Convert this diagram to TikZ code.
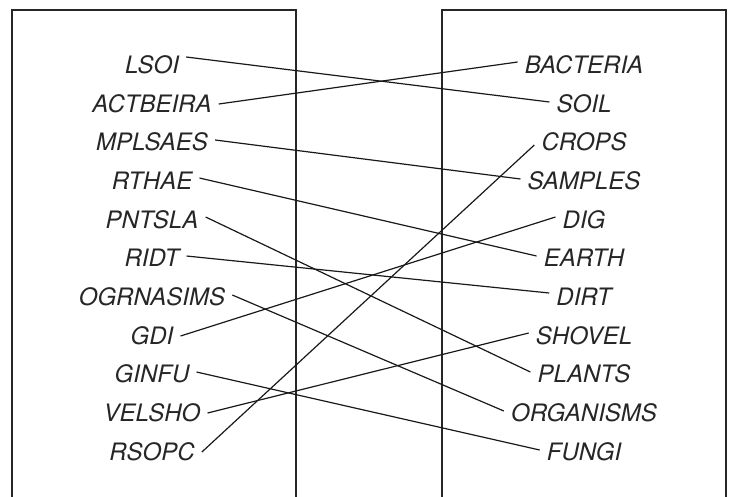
\documentclass[tikz,border=0pt]{standalone}
\usepackage{fontspec}
\setmainfont{TeX Gyre Heros}
\usepackage{tikz}

\begin{document}
\begin{tikzpicture}[x=1pt, y=1pt,
  panel/.style={draw=black!85, line width=2.1pt},
  word/.style={font=\fontsize{24}{24}\selectfont\itshape, inner xsep=7pt, inner ysep=2pt, text=black!85},
  link/.style={draw=black!90, line width=1.2pt}
]
  \useasboundingbox (0,0) rectangle (735,-496);
  % the two panels (open at the bottom)
  \draw[panel] (12,-497) |- (296,-10) -- (296,-497);
  \draw[panel] (442,-497) |- (726,-10) -- (726,-497);

  % scrambled words
  \node[word] (s1)  at (152,-65)  {LSOI};
  \node[word] (s2)  at (152,-104) {ACTBEIRA};
  \node[word] (s3)  at (152,-142) {MPLSAES};
  \node[word] (s4)  at (152,-181) {RTHAE};
  \node[word] (s5)  at (152,-220) {PNTSLA};
  \node[word] (s6)  at (152,-258) {RIDT};
  \node[word] (s7)  at (152,-297) {OGRNASIMS};
  \node[word] (s8)  at (152,-336) {GDI};
  \node[word] (s9)  at (152,-374) {GINFU};
  \node[word] (s10) at (152,-413) {VELSHO};
  \node[word] (s11) at (152,-452) {RSOPC};

  % answers
  \node[word] (a1)  at (584,-65)  {BACTERIA};
  \node[word] (a2)  at (584,-104) {SOIL};
  \node[word] (a3)  at (584,-142) {CROPS};
  \node[word] (a4)  at (584,-181) {SAMPLES};
  \node[word] (a5)  at (584,-220) {DIG};
  \node[word] (a6)  at (584,-258) {EARTH};
  \node[word] (a7)  at (584,-297) {DIRT};
  \node[word] (a8)  at (584,-336) {SHOVEL};
  \node[word] (a9)  at (584,-374) {PLANTS};
  \node[word] (a10) at (584,-413) {ORGANISMS};
  \node[word] (a11) at (584,-452) {FUNGI};

  % matches
  \draw[link] ([yshift=8pt]s1.east) -- ([yshift=2pt]a2.west);
  \draw[link] (s2.east) -- ([yshift=3pt]a1.west);
  \draw[link] ([yshift=2pt]s3.east) -- ([yshift=2pt]a4.west);
  \draw[link] ([yshift=3pt]s4.east) -- ([yshift=2pt]a6.west);
  \draw[link] ([yshift=3pt]s5.east) -- ([yshift=2pt]a9.west);
  \draw[link] ([yshift=2pt]s6.east) -- ([yshift=4pt]a7.west);
  \draw[link] ([yshift=2pt]s7.east) -- ([yshift=2pt]a10.west);
  \draw[link] (s8.east) -- ([yshift=3pt]a5.west);
  \draw[link] ([yshift=2pt]s9.east) -- ([yshift=2pt]a11.west);
  \draw[link] (s10.east) -- ([yshift=3pt]a8.west);
  \draw[link] (s11.east) -- ([yshift=-3pt]a3.west);
\end{tikzpicture}
\end{document}
